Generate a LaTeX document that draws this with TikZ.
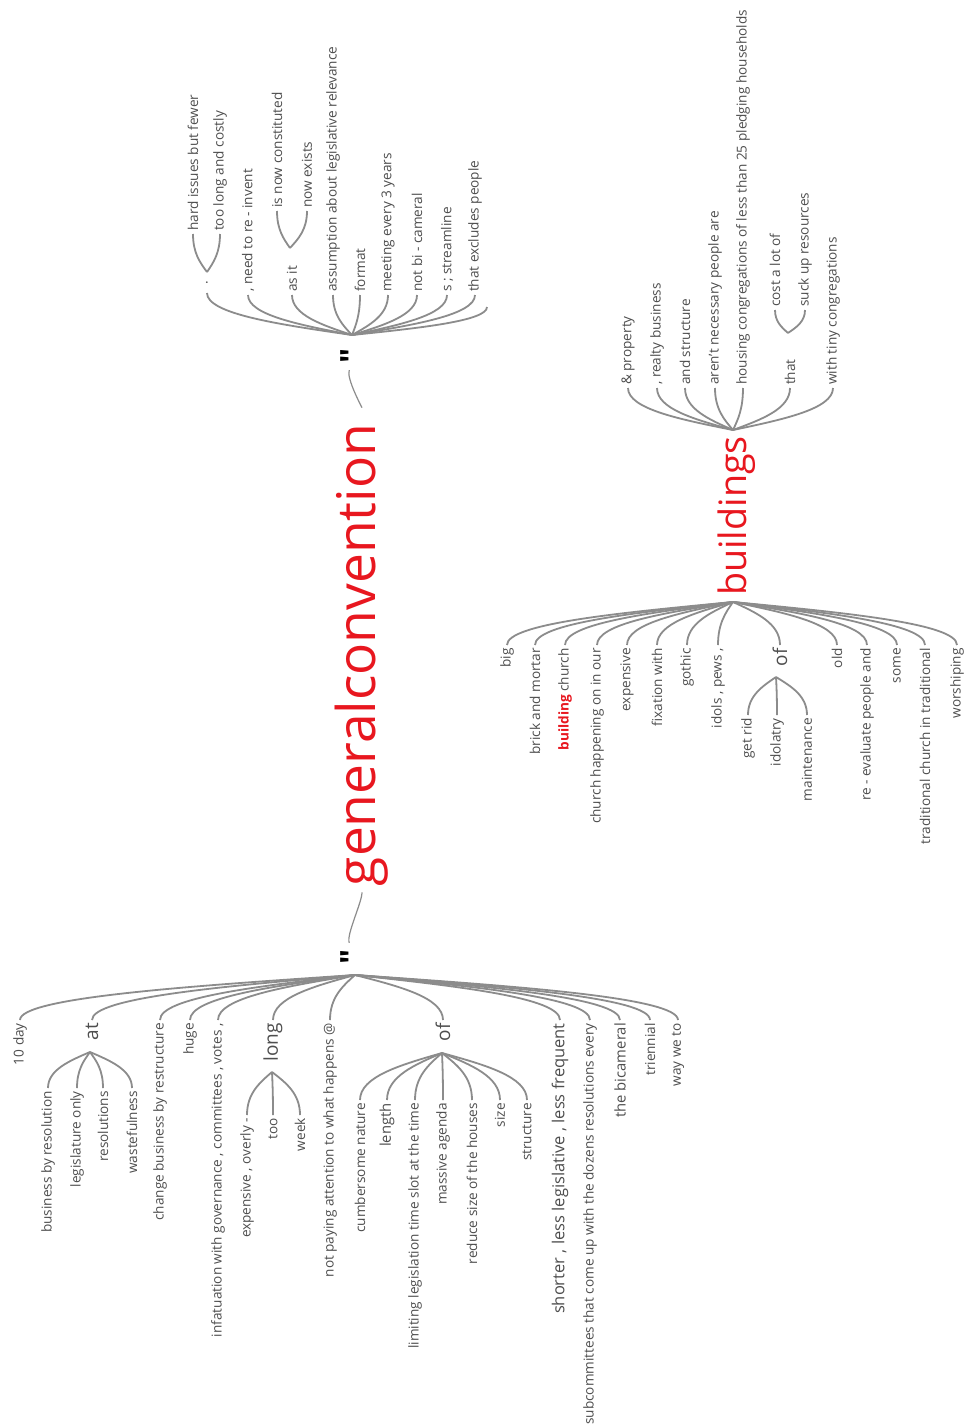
\documentclass[tikz,border=0pt]{standalone}
\usepackage{fontspec}
\setmainfont{Open Sans}
\newfontfamily\qfont{Open Sans}
\usetikzlibrary{calc}
\definecolor{wtred}{HTML}{E8171F}
\definecolor{wttext}{HTML}{4E4E4E}
\definecolor{wtline}{HTML}{8C8C8C}
\tikzset{
  leaf/.style={rotate=90, inner xsep=3pt, inner ysep=0pt, text=wttext, font=\fontsize{13.6}{15}\selectfont},
  up/.style={leaf, anchor=west},
  dn/.style={leaf, anchor=east},
  bigger/.style={font=\fontsize{14.8}{16}\selectfont},
  biggest/.style={font=\fontsize{16.5}{18}\selectfont},
  hugeword/.style={font=\fontsize{19}{22}\selectfont},
  root/.style={rotate=90, inner sep=0pt, text=wtred},
  conn/.style={draw=wtline, line width=1.8pt},
  thinconn/.style={draw=wtline, line width=1.2pt},
  quot/.style={rotate=90, inner sep=0pt, font=\qfont\fontsize{32}{34}\selectfont\bfseries, text=black},
}
\newcommand\wtc[2]{\draw[conn] let \p1=(#1), \p2=(#2) in (\p1) .. controls (0.5*\x1+0.5*\x2, 0.75*\y1+0.25*\y2) and (\x2, 0.5*\y1+0.5*\y2) .. (\p2);}
\begin{document}
\begin{tikzpicture}[x=1pt,y=-1pt]
\path[use as bounding box, fill=white] (0,0) rectangle (968,1426);
% ---------- roots ----------
\node[root, font=\fontsize{53.3}{58}\selectfont] (gc) at (362,655) {generalconvention};
\node[quot] (q1) at (352,356) {\symbol{34}};
\node[quot] (q2) at (352,957) {\symbol{34}};
\draw[thinconn, shorten <=7pt, shorten >=16pt] (q1.west) .. controls +(-6,14) and +(0,-16) .. (gc.east);
\draw[thinconn, shorten <=6pt, shorten >=7pt] (gc.west) .. controls +(0,16) and +(-6,-14) .. (q2.east);
\node[root, font=\fontsize{37.7}{41}\selectfont] (bd) at (737,516) {buildings};
% ---------- apexes and forks ----------
\coordinate (gcA) at (352,335);
\coordinate (gcB) at (355,975);
\coordinate (bdA) at (733,430);
\coordinate (bdB) at (733,602);
\coordinate (fDot) at (207,272);
\coordinate (fAs) at (290,248);
\coordinate (fAt) at (90,1052);
\coordinate (fLong) at (272,1072);
\coordinate (fOf) at (442,1053);
\coordinate (fThat) at (788,333);
\coordinate (fOfB) at (776,677);
\coordinate (eEmpty) at (487,307);
% ---------- generalconvention: following ----------
\node[leaf, inner xsep=8pt] (u1) at (207,283) {.};
\node[up] (u1a) at (193,234) {hard issues but fewer};
\node[up] (u1b) at (220,234) {too long and costly};
\node[up] (u2) at (248,295) {, need to re - invent};
\node[up] (u3) at (292,295) {as it};
\node[up] (u3a) at (277,211) {is now constituted};
\node[up] (u3b) at (307,211) {now exists};
\node[up] (u4) at (333,295) {assumption about legislative relevance};
\node[up] (u5) at (360,295) {format};
\node[up] (u6) at (388,295) {meeting every 3 years};
\node[up] (u7) at (417,295) {not bi - cameral};
\node[up] (u8) at (447,295) {s ; streamline};
\node[up] (u9) at (475,295) {that excludes people};
\foreach \nd in {u1.west,u2.west,u3.west,u4.west,u5.west,u6.west,u7.west,u8.west,u9.west,eEmpty}{\wtc{gcA}{\nd}}
\foreach \nd in {u1a.west,u1b.west}{\wtc{fDot}{\nd}}
\foreach \nd in {u3a.west,u3b.west}{\wtc{fAs}{\nd}}
% ---------- generalconvention: preceding ----------
\node[dn] (d1) at (20,1020) {10 day};
\node[dn, hugeword] (d2) at (92,1020) {at};
\node[dn] (d2a) at (48,1088) {business by resolution};
\node[dn] (d2b) at (77,1088) {legislature only};
\node[dn] (d2c) at (103,1088) {resolutions};
\node[dn] (d2d) at (132,1088) {wastefulness};
\node[dn] (d3) at (160,1020) {change business by restructure};
\node[dn] (d4) at (190,1020) {huge};
\node[dn] (d5) at (218,1020) {infatuation with governance , committees , votes ,};
\node[dn, hugeword] (d6) at (273,1020) {long};
\node[dn] (d6a) at (247,1115) {expensive , overly -};
\node[dn] (d6b) at (273,1115) {too};
\node[dn] (d6c) at (300,1115) {week};
\node[dn] (d7) at (330,1020) {not paying attention to what happens @};
\node[dn, hugeword] (d8) at (443,1020) {of};
\node[dn] (d8a) at (360,1100) {cumbersome nature};
\node[dn, bigger] (d8b) at (387,1100) {length};
\node[dn] (d8c) at (415,1100) {limiting legislation time slot at the time};
\node[dn] (d8d) at (443,1100) {massive agenda};
\node[dn] (d8e) at (472,1100) {reduce size of the houses};
\node[dn] (d8f) at (500,1100) {size};
\node[dn] (d8g) at (527,1100) {structure};
\node[dn, biggest] (d9) at (560,1020) {shorter , less legislative , less frequent};
\node[dn] (d10) at (590,1020) {subcommittees that come up with the dozens resolutions every};
\node[dn, bigger] (d11) at (620,1020) {the bicameral};
\node[dn] (d12) at (650,1020) {triennial};
\node[dn] (d13) at (678,1020) {way we to};
\foreach \nd in {d1,d2,d3,d4,d5,d6,d7,d8,d9,d10,d11,d12,d13}{\wtc{gcB}{\nd.east}}
\foreach \nd in {d2a,d2b,d2c,d2d}{\wtc{fAt}{\nd.east}}
\foreach \nd in {d6a,d6b,d6c}{\wtc{fLong}{\nd.east}}
\foreach \nd in {d8a,d8b,d8c,d8d,d8e,d8f,d8g}{\wtc{fOf}{\nd.east}}
% ---------- buildings: following ----------
\node[up] (b1) at (628,388) {\& property};
\node[up] (b2) at (657,388) {, realty business};
\node[up] (b3) at (685,388) {and structure};
\node[up] (b4) at (715,388) {aren't necessary people are};
\node[up] (b5) at (743,388) {housing congregations of less than 25 pledging households};
\node[up] (b6) at (790,388) {that};
\node[up] (b6a) at (775,310) {cost a lot of};
\node[up] (b6b) at (805,310) {suck up resources};
\node[up] (b7) at (833,388) {with tiny congregations};
\foreach \nd in {b1,b2,b3,b4,b5,b6,b7}{\wtc{bdA}{\nd.west}}
\foreach \nd in {b6a,b6b}{\wtc{fThat}{\nd.west}}
% ---------- buildings: preceding ----------
\node[dn] (c1) at (507,645) {big};
\node[dn] (c2) at (535,645) {brick and mortar};
\node[dn] (c3) at (565,645) {\textcolor{wtred}{\bfseries building} church};
\node[dn] (c4) at (597,645) {church happening on in our};
\node[dn] (c5) at (627,645) {expensive};
\node[dn] (c6) at (657,645) {fixation with};
\node[dn] (c7) at (687,645) {gothic};
\node[dn] (c8) at (718,645) {idols , pews ,};
\node[dn, hugeword] (c9) at (780,645) {of};
\node[dn] (c9a) at (748,715) {get rid};
\node[dn] (c9b) at (777,715) {idolatry};
\node[dn] (c9c) at (807,715) {maintenance};
\node[dn] (c10) at (837,645) {old};
\node[dn] (c11) at (867,645) {re - evaluate people and};
\node[dn] (c12) at (897,645) {some};
\node[dn] (c13) at (925,645) {traditional church in traditional};
\node[dn] (c14) at (957,645) {worshiping};
\foreach \nd in {c1,c2,c3,c4,c5,c6,c7,c8,c9,c10,c11,c12,c13,c14}{\wtc{bdB}{\nd.east}}
\foreach \nd in {c9a,c9b,c9c}{\wtc{fOfB}{\nd.east}}
\end{tikzpicture}
\end{document}
